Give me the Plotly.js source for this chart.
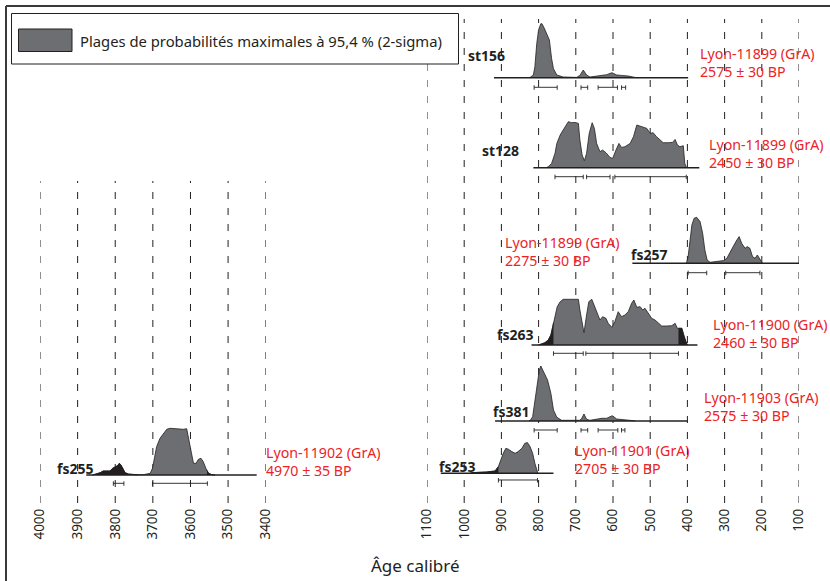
<!DOCTYPE html>
<html><head><meta charset="utf-8">
<script src="https://cdn.plot.ly/plotly-3.0.1.min.js"></script>
<style>html,body{margin:0;padding:0;background:#fff;}#chart{width:830px;height:581px;}</style>
</head><body><div id="chart"></div>
<script>
// ---------- DATA ----------
const leftTicks = [4000, 3900, 3800, 3700, 3600, 3500, 3400];
const rightTicks = [1100, 1000, 900, 800, 700, 600, 500, 400, 300, 200, 100];
const axisTitle = 'Âge calibré';
const legendText = 'Plages de probabilités maximales à 95,4 % (2-sigma)';

const sampleNames = ['st156', 'st128', 'fs257', 'fs263', 'fs381', 'fs253', 'fs255'];
const labCodes = ['Lyon-11899 (GrA)', 'Lyon-11899 (GrA)', 'Lyon-11899 (GrA)', 'Lyon-11900 (GrA)', 'Lyon-11903 (GrA)', 'Lyon-11901 (GrA)', 'Lyon-11902 (GrA)'];
const bpDates = ['2575 ± 30 BP', '2450 ± 30 BP', '2275 ± 30 BP', '2460 ± 30 BP', '2575 ± 30 BP', '2705 ± 30 BP', '4970 ± 35 BP'];

// calibrated ages (BC) and relative probability
const st156_age = [830, 823, 814, 810, 805, 800, 794, 791, 785, 778, 771, 765, 760, 751, 734, 698, 689, 680, 671, 662, 644, 630, 617, 603, 590, 577, 559, 541, 530];
const st156_prob = [0, 0.3, 2.7, 11, 34, 48, 54, 54, 49.7, 44, 37.7, 19, 9, 2.7, 0.7, 0.3, 2.3, 7.7, 2.7, 0.7, 1.7, 2.7, 3, 5, 2.7, 2.3, 1.7, 0.3, 0];
const st156_ranges = [[812, 750], [686, 668], [640, 588], [577, 566]];
const st156_span = [920, 398];
const st156_tails = [];

const st128_age = [780, 774, 765, 756, 751, 742, 734, 724, 720, 711, 702, 693, 689, 683, 677, 671, 664, 656, 650, 644, 635, 628, 619, 608, 601, 592, 584, 577, 568, 554, 545, 536, 527, 519, 509, 500, 492, 483, 474, 465, 451, 440, 433, 427, 420, 411, 407, 402];
const st128_prob = [0, 1, 4.3, 14.3, 24.3, 32.7, 37.7, 44.3, 46, 45, 45.3, 44.3, 27.7, 12.7, 7, 14.3, 34.3, 45, 39.3, 24.3, 16, 17.7, 15, 10.3, 9.3, 17.7, 24.3, 20.3, 21, 24.3, 31, 42.7, 41.7, 41, 39.3, 34.3, 35, 31, 27.7, 25, 25, 25.3, 28.3, 22.7, 21, 22, 4.3, 0];
const st128_ranges = [[756, 680], [671, 608], [595, 403]];
const st128_span = [814, 368];
const st128_tails = [];

const fs257_age = [405, 402, 398, 393, 388, 382, 375, 366, 359, 353, 347, 339, 317, 303, 294, 285, 277, 267, 261, 254, 245, 239, 232, 225, 218, 212, 207, 198];
const fs257_prob = [0, 0.7, 6.7, 23.3, 38.3, 45, 46, 41.7, 30, 13.3, 3.3, 1, 1.7, 2.7, 5, 11.7, 16.7, 23.3, 26.7, 20, 15, 16.7, 15, 6.7, 5, 8.3, 5, 0];
const fs257_ranges = [[398, 348], [297, 205]];
const fs257_span = [548, 100];
const fs257_tails = [];

const fs263_age = [800, 796, 783, 774, 767, 762, 756, 750, 742, 734, 720, 707, 693, 689, 683, 678, 671, 665, 657, 651, 644, 635, 628, 619, 613, 603, 595, 586, 577, 568, 559, 550, 544, 536, 527, 520, 514, 505, 496, 487, 478, 469, 456, 442, 433, 427, 415, 409, 402, 400];
const fs263_prob = [0, 0.7, 2.3, 5, 10, 18.3, 30, 38.3, 43.3, 45.7, 45.7, 45.7, 45.7, 35, 21.7, 12.3, 30, 43.3, 45.7, 40, 31.7, 25, 28.3, 26.7, 21.7, 17.7, 23.3, 33.3, 28.3, 30, 33.3, 41.7, 45, 37.7, 38.3, 35, 36.7, 31.7, 26.7, 25, 21.7, 19, 19, 19.3, 21.7, 16.7, 16.7, 8.3, 0.7, 0];
const fs263_ranges = [[760, 680], [673, 424]];
const fs263_span = [819, 373];
const fs263_tails = [[800, 760], [424, 400]];

const fs381_age = [826, 823, 816, 810, 803, 798, 794, 789, 783, 776, 767, 760, 751, 738, 689, 684, 678, 671, 662, 644, 630, 617, 602, 590, 577, 559, 545, 540];
const fs381_prob = [0, 0.3, 4.3, 20.7, 41, 51, 55, 51, 46, 41, 27.7, 11, 3.7, 0.7, 0.7, 2.7, 7, 1.7, 0.7, 2, 2.7, 2.7, 5.3, 2, 1.7, 1, 0.3, 0];
const fs381_ranges = [[812, 750], [686, 668], [640, 587], [577, 568]];
const fs381_span = [917, 399];
const fs381_tails = [];

const fs253_age = [985, 976, 940, 917, 908, 902, 895, 888, 881, 872, 863, 855, 845, 837, 830, 823, 816, 810, 805, 802];
const fs253_prob = [0, 0.7, 1.3, 2.3, 6.7, 13.3, 20, 25, 24, 21.7, 20, 21.7, 25, 30, 30.7, 26.7, 20, 10, 1.7, 0];
const fs253_ranges = [[908, 803]];
const fs253_span = [1063, 760];
const fs253_tails = [[985, 908]];

const fs255_age = [3860, 3849, 3840, 3832, 3823, 3814, 3807, 3801, 3794, 3789, 3785, 3780, 3774, 3765, 3752, 3725, 3707, 3701, 3697, 3690, 3681, 3672, 3663, 3654, 3636, 3619, 3610, 3606, 3599, 3592, 3585, 3579, 3572, 3566, 3559, 3552, 3543, 3535];
const fs255_prob = [0, 1, 2.3, 4, 4.3, 4, 6.7, 8.3, 9.3, 11.7, 10, 6.7, 2.3, 1, 0.3, 0.3, 1.7, 6.7, 15, 28.3, 36.7, 41.7, 45.7, 46.7, 46, 45.7, 46.3, 38.3, 23.3, 11.7, 11.7, 15.7, 16.7, 13.3, 6.7, 1.7, 0.3, 0];
const fs255_ranges = [[3805, 3777], [3701, 3555]];
const fs255_span = [3877, 3424];
const fs255_tails = [[3860, 3740], [3556, 3535]];

// ---------- LAYOUT / STYLE ----------
const W = 830, H = 581;
const fx = px => px / W;
const fy = py => 1 - py / H;
const grey = '#6d6e71', ink = '#231f20', red = '#ec2227';
const font = 'Noto Sans, Open Sans, sans-serif';

const series = [
  {age: st156_age, prob: st156_prob, ranges: st156_ranges, span: st156_span, tails: st156_tails},
  {age: st128_age, prob: st128_prob, ranges: st128_ranges, span: st128_span, tails: st128_tails},
  {age: fs257_age, prob: fs257_prob, ranges: fs257_ranges, span: fs257_span, tails: fs257_tails},
  {age: fs263_age, prob: fs263_prob, ranges: fs263_ranges, span: fs263_span, tails: fs263_tails},
  {age: fs381_age, prob: fs381_prob, ranges: fs381_ranges, span: fs381_span, tails: fs381_tails},
  {age: fs253_age, prob: fs253_prob, ranges: fs253_ranges, span: fs253_span, tails: fs253_tails},
  {age: fs255_age, prob: fs255_prob, ranges: fs255_ranges, span: fs255_span, tails: fs255_tails}
];
// placement (pixels): baseline, bracket offset, panel, name label right edge/centre, red label left/centre
const place = [
  {base: 77.7, br: 9.6, panel: 2, nx: 507, ny: 56, lx: 698, ly: 62},
  {base: 167.7, br: 9, panel: 2, nx: 521, ny: 150, lx: 707, ly: 154},
  {base: 263.3, br: 9.4, panel: 2, nx: 669, ny: 254, lx: 503, ly: 251},
  {base: 345, br: 8.3, panel: 2, nx: 535, ny: 334, lx: 711, ly: 333},
  {base: 421, br: 9, panel: 2, nx: 531, ny: 411, lx: 702, ly: 406},
  {base: 473.3, br: 6.7, panel: 2, nx: 477, ny: 466, lx: 573, ly: 459},
  {base: 475, br: 8.3, panel: 1, nx: 95, ny: 468, lx: 264, ly: 461}
];

function clip(xs, ys, lo, hi) {
  const a = Math.min(lo, hi), b = Math.max(lo, hi);
  const ox = [], oy = [];
  const val = x => {
    for (let i = 0; i < xs.length - 1; i++) {
      const x0 = xs[i], x1 = xs[i + 1];
      if ((x - x0) * (x - x1) <= 0) {
        const t = x1 === x0 ? 0 : (x - x0) / (x1 - x0);
        return ys[i] + t * (ys[i + 1] - ys[i]);
      }
    }
    return 0;
  };
  ox.push(b); oy.push(val(b));
  xs.forEach((x, i) => { if (x < b && x > a) { ox.push(x); oy.push(ys[i]); } });
  ox.push(a); oy.push(val(a));
  return {x: ox, y: oy};
}

const traces = [];
const layout = {
  width: W, height: H, margin: {l: 0, r: 0, t: 0, b: 0},
  paper_bgcolor: '#ffffff', plot_bgcolor: 'rgba(0,0,0,0)', showlegend: false,
  font: {family: font, color: ink},
  shapes: [], annotations: []
};
const xBase = {anchor: 'free', position: fy(505), showgrid: false, zeroline: false, showline: false,
  ticks: '', tickangle: -90, tickfont: {family: font, size: 13.5, color: ink}, fixedrange: true};
layout.xaxis = Object.assign({}, xBase, {domain: [fx(40), fx(265.7)], range: [leftTicks[0], leftTicks[leftTicks.length - 1]],
  tickvals: leftTicks, ticktext: leftTicks.map(String)});
layout.xaxis2 = Object.assign({}, xBase, {domain: [fx(427), fx(799)], range: [rightTicks[0], rightTicks[rightTicks.length - 1]],
  tickvals: rightTicks, ticktext: rightTicks.map(String)});

// dashed grid lines
leftTicks.forEach(t => layout.shapes.push({type: 'line', xref: 'x', yref: 'paper', x0: t, x1: t, y0: fy(503), y1: fy(181),
  line: {color: ink, width: 1, dash: '7px,9px'}, layer: 'below'}));
rightTicks.forEach(t => layout.shapes.push({type: 'line', xref: 'x2', yref: 'paper', x0: t, x1: t, y0: fy(503), y1: fy(19),
  line: {color: ink, width: 1, dash: '7px,9px'}, layer: 'below'}));

series.forEach((s, i) => {
  const p = place[i];
  const yk = i === 0 ? 'y' : 'y' + (i + 1);
  const yl = i === 0 ? 'yaxis' : 'yaxis' + (i + 1);
  const xk = p.panel === 1 ? 'x' : 'x2';
  layout[yl] = {domain: [fy(p.base + 22), fy(p.base - 70)], range: [-22, 70], visible: false, anchor: xk, fixedrange: true};
  traces.push({x: s.age, y: s.prob, xaxis: xk, yaxis: yk, mode: 'lines', fill: 'tozeroy', fillcolor: grey,
    line: {color: ink, width: 0.8}, hoverinfo: 'skip'});
  s.tails.forEach(t => {
    const c = clip(s.age, s.prob, t[0], t[1]);
    traces.push({x: c.x, y: c.y, xaxis: xk, yaxis: yk, mode: 'lines', fill: 'tozeroy', fillcolor: ink,
      line: {color: ink, width: 0.8}, hoverinfo: 'skip'});
  });
  traces.push({x: s.span, y: [0, 0], xaxis: xk, yaxis: yk, mode: 'lines', line: {color: ink, width: 1.4}, hoverinfo: 'skip'});
  const bx = [], by = [];
  s.ranges.forEach(r => {
    bx.push(r[0], r[0], null, r[0], r[1], null, r[1], r[1], null);
    by.push(-p.br - 2.5, -p.br + 2, null, -p.br, -p.br, null, -p.br - 2.5, -p.br + 2, null);
  });
  traces.push({x: bx, y: by, xaxis: xk, yaxis: yk, mode: 'lines', line: {color: ink, width: 0.9}, hoverinfo: 'skip', connectgaps: false});

  layout.annotations.push({xref: 'paper', yref: 'paper', x: fx(p.nx), y: fy(p.ny), xanchor: 'right', yanchor: 'middle',
    text: sampleNames[i], showarrow: false, font: {family: font, size: 14, color: ink, weight: 700}});
  layout.annotations.push({xref: 'paper', yref: 'paper', x: fx(p.lx), y: fy(p.ly), xanchor: 'left', yanchor: 'middle', align: 'left',
    text: labCodes[i] + '<br>' + bpDates[i], showarrow: false, font: {family: font, size: 14.2, color: red}});
});

// frame
layout.shapes.push({type: 'line', xref: 'paper', yref: 'paper', x0: fx(6), x1: 1, y0: fy(6), y1: fy(6), line: {color: '#3a3a3a', width: 2}});
layout.shapes.push({type: 'line', xref: 'paper', yref: 'paper', x0: fx(6), x1: fx(6), y0: fy(6), y1: 0, line: {color: '#3a3a3a', width: 2}});
// legend box
layout.shapes.push({type: 'rect', xref: 'paper', yref: 'paper', x0: fx(11.5), x1: fx(458.5), y0: fy(64), y1: fy(13.5),
  line: {color: ink, width: 1}, fillcolor: '#ffffff'});
layout.shapes.push({type: 'rect', xref: 'paper', yref: 'paper', x0: fx(18.5), x1: fx(72), y0: fy(51.5), y1: fy(29),
  line: {color: ink, width: 1}, fillcolor: grey});
layout.annotations.push({xref: 'paper', yref: 'paper', x: fx(78), y: fy(40.5), xanchor: 'left', yanchor: 'middle',
  text: legendText, showarrow: false, font: {family: font, size: 14.8, color: ink}});
// axis title
layout.annotations.push({xref: 'paper', yref: 'paper', x: fx(415), y: fy(565), xanchor: 'center', yanchor: 'middle',
  text: axisTitle, showarrow: false, font: {family: font, size: 17, color: ink}});

Plotly.newPlot('chart', traces, layout, {staticPlot: true, displayModeBar: false});
</script>
</body></html>
